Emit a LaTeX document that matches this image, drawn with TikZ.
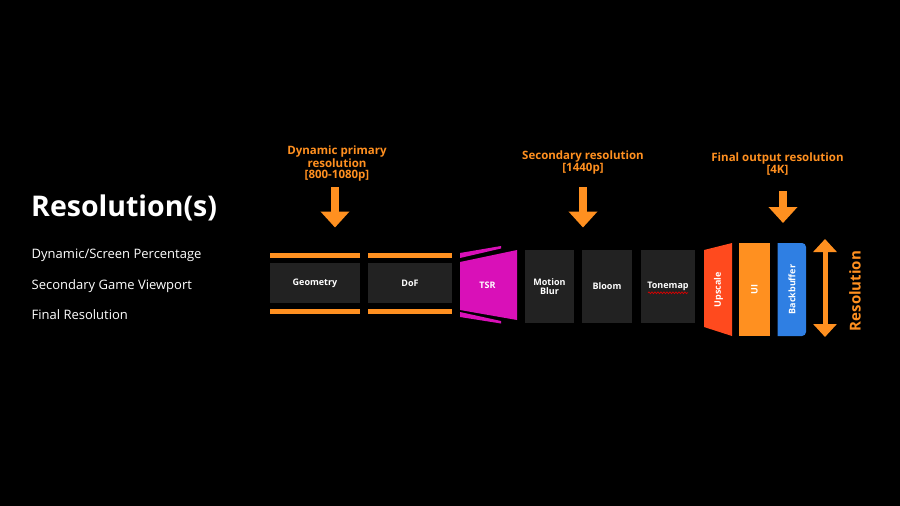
\documentclass[tikz,border=0pt]{standalone}
\usepackage{fontspec}
\setmainfont{Open Sans}
\usetikzlibrary{arrows.meta,decorations.pathmorphing}
\definecolor{resorange}{HTML}{FF9020}
\definecolor{resmagenta}{HTML}{D910B8}
\definecolor{resred}{HTML}{FF4A1E}
\definecolor{resblue}{HTML}{2F7FE3}
\definecolor{passgray}{HTML}{222222}
\begin{document}
\begin{tikzpicture}[x=1pt,y=-1pt,
  passbox/.style={fill=passgray, text=white, inner sep=0pt, align=center,
    font=\fontsize{9}{9.5}\selectfont\bfseries},
  passtext/.style={text=white, inner sep=0pt, align=center,
    font=\fontsize{9}{9.5}\selectfont\bfseries},
  reslabel/.style={text=resorange, align=center, inner sep=0pt,
    font=\fontsize{11.5}{10.7}\selectfont\bfseries},
  sidetext/.style={text=white, anchor=base west, inner sep=0pt,
    font=\fontsize{13}{14}\selectfont},
  bigarrow/.style={draw=resorange, line width=8pt,
    -{Triangle[width=28pt,length=16pt]}}]
\useasboundingbox (0,0) rectangle (900,506);
\fill[black] (0,0) rectangle (900,506);
% left column
\node[anchor=base west, text=white, inner sep=0pt,
    font=\fontsize{28.5}{32}\selectfont\bfseries] (title) at (31,216.5) {Resolution(s)};
\node[sidetext] (dynpct) at (31.5,258.3) {Dynamic/Screen Percentage};
\node[sidetext] (secvp) at (31.5,289.3) {Secondary Game Viewport};
\node[sidetext] (finres) at (31.5,319.3) {Final Resolution};
% primary resolution passes
\fill[resorange] (270,253) rectangle (360,258);
\fill[resorange] (270,309) rectangle (360,314);
\node[passbox, minimum width=90pt, minimum height=40pt] (geo) at (315,283) {Geometry};
\fill[resorange] (368,253) rectangle (452,258);
\fill[resorange] (368,309) rectangle (452,314);
\node[passbox, minimum width=84pt, minimum height=40pt] (dof) at (410,283) {DoF};
% TSR
\fill[resmagenta] (460,262) -- (517,250) -- (517,320) -- (460,310) -- cycle;
\fill[resmagenta] (460,253) -- (501,246) -- (501,248.5) -- (460,258) -- cycle;
\fill[resmagenta] (460,312) -- (501,321) -- (501,323.5) -- (460,317) -- cycle;
\node[passtext] (tsr) at (487.5,285) {TSR};
% secondary resolution passes
\node[passbox, minimum width=49pt, minimum height=72.5pt] (mblur) at (549.5,286.5) {Motion\\Blur};
\node[passbox, minimum width=50pt, minimum height=72.5pt] (bloom) at (607,286.5) {Bloom};
\node[passbox, minimum width=54pt, minimum height=72.5pt] (tmap) at (668,286.5) {Tonemap};
\draw[red!85!black, line width=0.7pt, decorate,
    decoration={snake, amplitude=0.9pt, segment length=3pt}] (648,292.8) -- (688,292.8);
% final output
\fill[resred] (704,250) -- (732,243) -- (732,336) -- (704,327) -- cycle;
\node[passtext, rotate=90] (upscale) at (718.5,289.5) {Upscale};
\node[fill=resorange, inner sep=0pt, minimum width=31pt, minimum height=93pt] (uibox) at (754.5,289.5) {};
\node[passtext, rotate=90] (ui) at (uibox) {UI};
\fill[resblue] (777.5,243) [rounded corners=4pt] -- (806,243) -- (806,336) [sharp corners] -- (777.5,336) -- cycle;
\node[passtext, rotate=90] (bbuf) at (792,289.5) {Backbuffer};
% resolution labels and arrows
\node[reslabel] (lblprim) at (337,163.5) {Dynamic primary\\resolution\\{}[800-1080p]};
\node[reslabel] (lblsec) at (583,162.3) {Secondary resolution\\{}[1440p]};
\node[reslabel] (lblfin) at (777.5,164) {Final output resolution\\{}[4K]};
\coordinate (aprim1) at (335,187);
\coordinate (aprim2) at (335,227.5);
\coordinate (asec1) at (583,187);
\coordinate (asec2) at (583,227.5);
\coordinate (afin1) at (783,191);
\coordinate (afin2) at (783,223);
\draw[bigarrow] (aprim1) -- (aprim2);
\draw[bigarrow] (asec1) -- (asec2);
\draw[bigarrow] (afin1) -- (afin2);
\coordinate (rtop) at (825,239);
\coordinate (rbot) at (825,337);
\draw[draw=resorange, line width=5pt,
    {Triangle[width=23pt,length=13pt]}-{Triangle[width=23pt,length=13pt]}] (rtop) -- (rbot);
\node[text=resorange, rotate=90, inner sep=0pt,
    font=\fontsize{15}{16}\selectfont\bfseries] (resvert) at (855,291) {Resolution};
\end{tikzpicture}
\end{document}
